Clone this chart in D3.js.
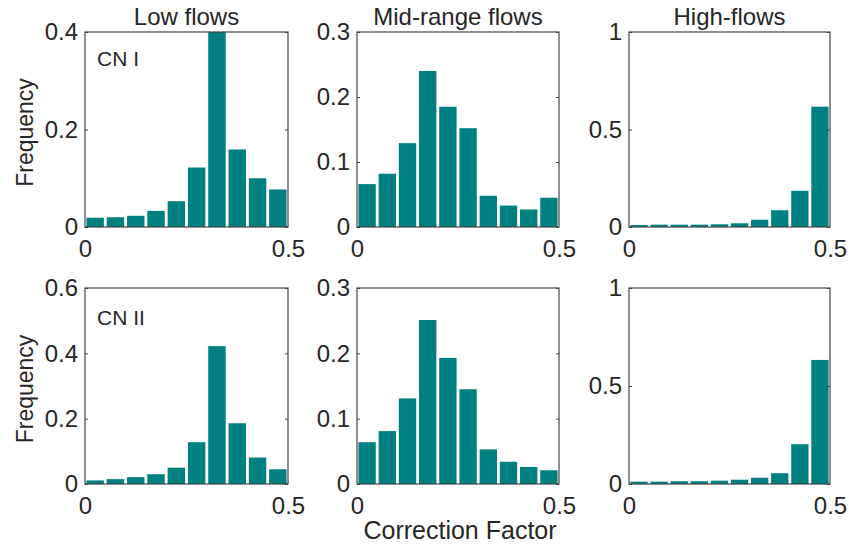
<!DOCTYPE html>
<html>
<head>
	<meta charset="utf-8">
	<title>Correction factor histograms</title>
	<script src="https://cdn.jsdelivr.net/npm/d3@7"></script>
	<style>
		body { margin: 0; background: #fff; }
		text { font-family: "Liberation Sans", Arial, sans-serif; fill: #262626; }
	</style>
</head>
<body>
	<script>
		// Bin starts (width 0.05) for the correction factor
		const binStarts = [0, 0.05, 0.1, 0.15, 0.2, 0.25, 0.3, 0.35, 0.4, 0.45];
		const binWidth = 0.05;

		// Frequencies
		const lowCN1  = [0.019, 0.020, 0.023, 0.033, 0.053, 0.122, 0.42, 0.159, 0.100, 0.077];
		const midCN1  = [0.066, 0.082, 0.129, 0.240, 0.185, 0.152, 0.048, 0.033, 0.027, 0.045];
		const highCN1 = [0.010, 0.012, 0.012, 0.012, 0.014, 0.019, 0.037, 0.086, 0.186, 0.617];
		const lowCN2  = [0.011, 0.015, 0.021, 0.030, 0.050, 0.128, 0.422, 0.186, 0.081, 0.045];
		const midCN2  = [0.064, 0.081, 0.131, 0.251, 0.193, 0.145, 0.053, 0.034, 0.026, 0.021];
		const highCN2 = [0.012, 0.012, 0.014, 0.014, 0.017, 0.022, 0.032, 0.055, 0.203, 0.633];

		// y-axis tick values per panel
		const lowTicks1 = [0, 0.2, 0.4];
		const midTicks = [0, 0.1, 0.2, 0.3];
		const highTicks = [0, 0.5, 1];
		const lowTicks2 = [0, 0.2, 0.4, 0.6];
		const xTicks = [0, 0.5];

		const titles = ["Low flows", "Mid-range flows", "High-flows"];
		const rowLabels = ["CN I", "CN II"];

		const w = 849;
		const h = 557;
		const barColor = "#008080";
		const axisColor = "#444";

		const colX = [[85, 288], [357, 559], [629, 830]];
		const rowY = [[32, 227], [288, 484]];

		const panels = [
			{ row: 0, col: 0, data: lowCN1, ticks: lowTicks1 },
			{ row: 0, col: 1, data: midCN1, ticks: midTicks },
			{ row: 0, col: 2, data: highCN1, ticks: highTicks },
			{ row: 1, col: 0, data: lowCN2, ticks: lowTicks2 },
			{ row: 1, col: 1, data: midCN2, ticks: midTicks },
			{ row: 1, col: 2, data: highCN2, ticks: highTicks }
		];

		const svg = d3.select("body")
			.append("svg")
			.attr("width", w)
			.attr("height", h);

		svg.append("rect").attr("width", w).attr("height", h).attr("fill", "#fff");

		panels.forEach(function (p, i) {
			const [x0, x1] = colX[p.col];
			const [y0, y1] = rowY[p.row];

			const xScale = d3.scaleLinear().domain([0, 0.5]).range([x0, x1]);
			const yScale = d3.scaleLinear().domain([0, d3.max(p.ticks)]).range([y1, y0]);

			// clip so the tall bar stops at the top of the box
			svg.append("clipPath")
				.attr("id", "clip" + i)
				.append("rect")
				.attr("x", x0).attr("y", y0)
				.attr("width", x1 - x0).attr("height", y1 - y0);

			const binPx = xScale(binWidth) - xScale(0);
			svg.append("g")
				.attr("clip-path", "url(#clip" + i + ")")
				.selectAll("rect")
				.data(p.data)
				.enter()
				.append("rect")
				.attr("x", function (d, j) { return xScale(binStarts[j]) + binPx * 0.07; })
				.attr("y", function (d) { return yScale(d); })
				.attr("width", binPx * 0.86)
				.attr("height", function (d) { return yScale(0) - yScale(d); })
				.attr("fill", barColor);

			// left axis with inward ticks
			const left = svg.append("g")
				.attr("transform", "translate(" + x0 + ",0)")
				.call(d3.axisLeft(yScale).tickValues(p.ticks).tickSize(-3).tickPadding(7)
					.tickFormat(d3.format("~g")));
			// right axis ticks only
			const right = svg.append("g")
				.attr("transform", "translate(" + x1 + ",0)")
				.call(d3.axisRight(yScale).tickValues(p.ticks).tickSize(-3).tickFormat(""));
			// bottom axis
			const bottom = svg.append("g")
				.attr("transform", "translate(0," + y1 + ")")
				.call(d3.axisBottom(xScale).tickValues(xTicks).tickSize(0).tickPadding(13)
					.tickFormat(d3.format("~g")));

			[left, right, bottom].forEach(function (g) {
				g.select(".domain").remove();
				g.selectAll("line").attr("stroke", axisColor);
				g.selectAll("text")
					.style("font-size", "24px")
					.attr("fill", "#262626");
			});

			// box
			svg.append("rect")
				.attr("x", x0).attr("y", y0)
				.attr("width", x1 - x0).attr("height", y1 - y0)
				.attr("fill", "none")
				.attr("stroke", axisColor)
				.attr("stroke-width", 1.2);

			if (p.row === 0) {
				svg.append("text")
					.attr("x", (x0 + x1) / 2)
					.attr("y", 25)
					.attr("text-anchor", "middle")
					.style("font-size", "24px")
					.text(titles[p.col]);
			}

			if (p.col === 0) {
				svg.append("text")
					.attr("x", 97)
					.attr("y", p.row === 0 ? 66 : 325)
					.style("font-size", "21px")
					.text(rowLabels[p.row]);

				svg.append("text")
					.attr("transform", "translate(33," + ((y0 + y1) / 2 + 3) + ") rotate(-90)")
					.attr("text-anchor", "middle")
					.style("font-size", "23px")
					.text("Frequency");
			}
		});

		svg.append("text")
			.attr("x", 460)
			.attr("y", 539)
			.attr("text-anchor", "middle")
			.style("font-size", "25px")
			.text("Correction Factor");
	</script>
</body>
</html>
